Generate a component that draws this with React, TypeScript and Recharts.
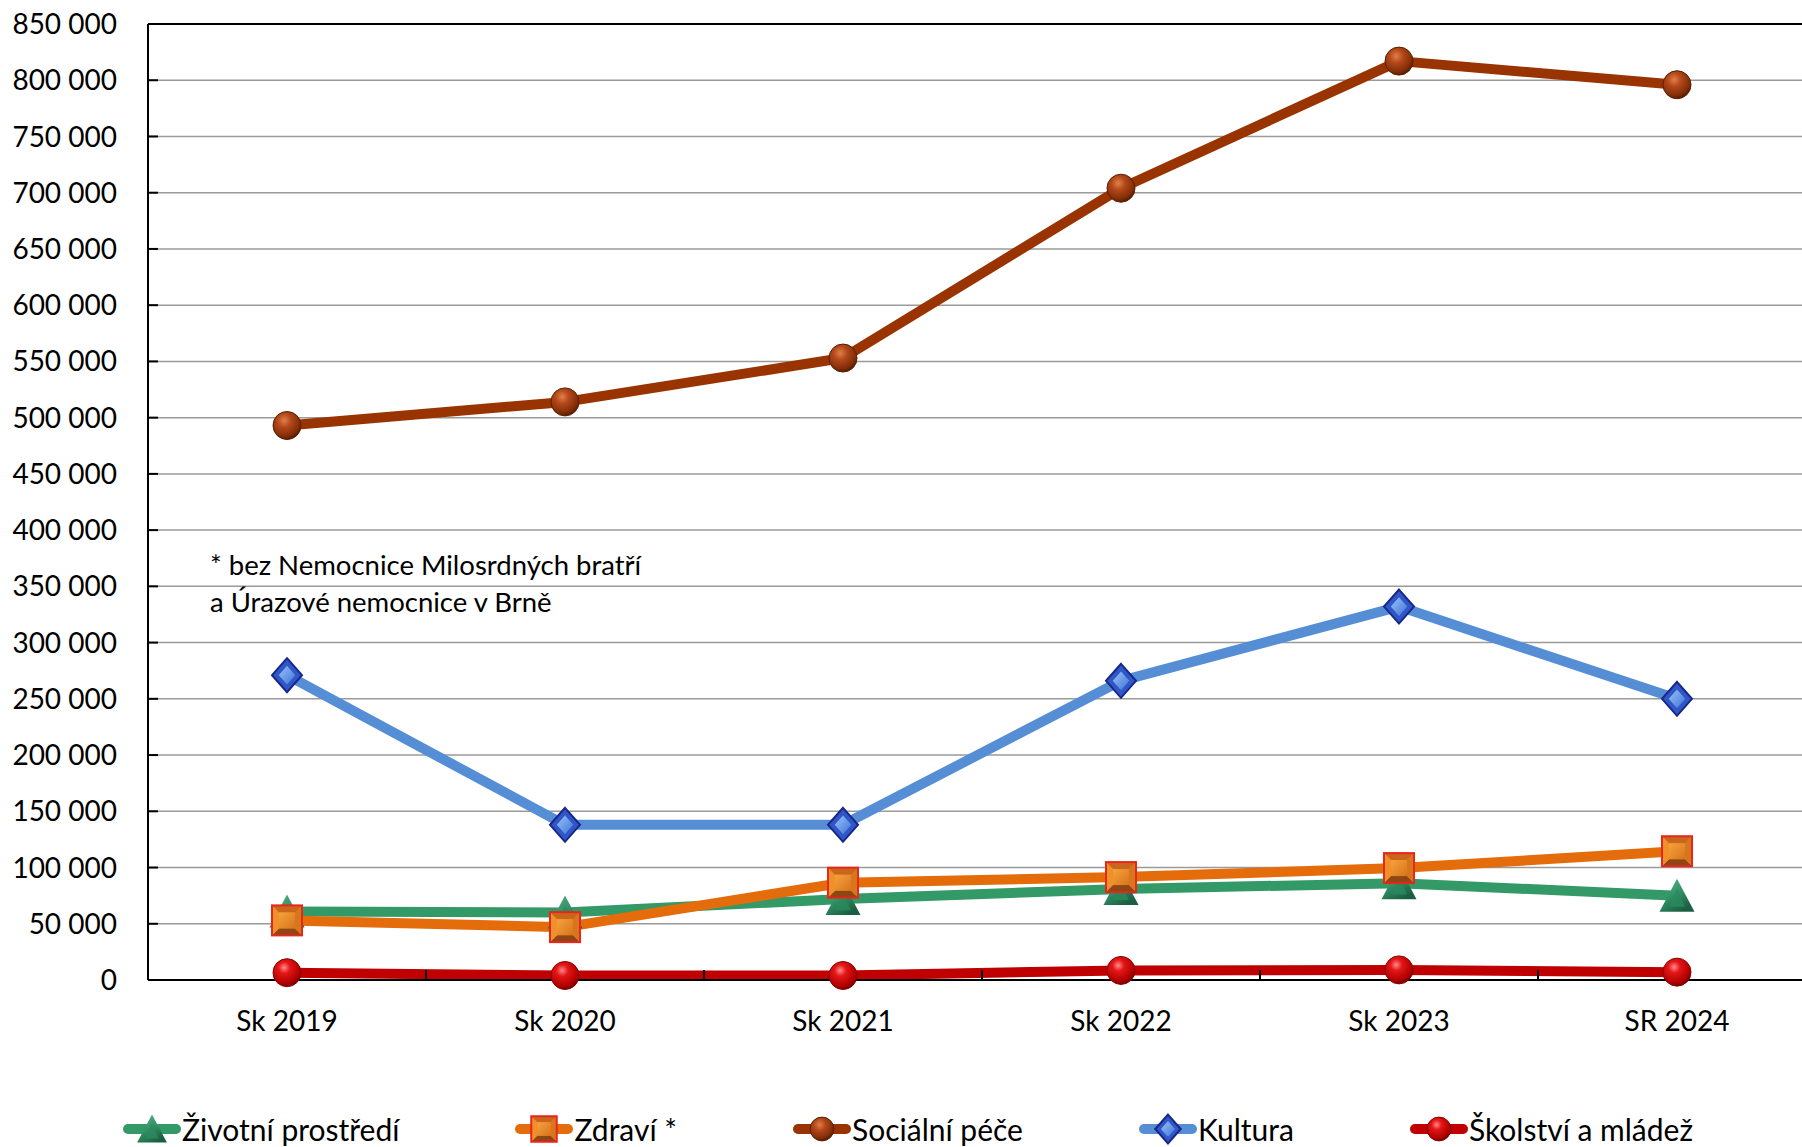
import React from "react";
import { LineChart, Line, XAxis, YAxis, CartesianGrid, ReferenceLine } from "recharts";

const categories = ["Sk 2019", "Sk 2020", "Sk 2021", "Sk 2022", "Sk 2023", "SR 2024"];
const zivotniProstredi = [61000, 60000, 72000, 81000, 86000, 75000];
const zdravi = [53000, 47000, 86500, 91500, 99500, 114500];
const socialniPece = [493000, 514000, 553000, 704000, 817000, 796000];
const kultura = [271000, 138000, 138000, 266000, 332000, 250000];
const skolstvi = [6500, 4000, 4000, 8500, 9000, 7000];
const yTicks = [
  0, 50000, 100000, 150000, 200000, 250000, 300000, 350000, 400000,
  450000, 500000, 550000, 600000, 650000, 700000, 750000, 800000, 850000,
];
const noteLines = ["* bez Nemocnice Milosrdných bratří", "a Úrazové nemocnice v Brně"];

const W = 1802;
const H = 1147;
const CHART_W = 1827;
const Y_AXIS_W = 148;
const MARGIN_R = 11;
const X_AXIS_H = 167;
const BAND = (CHART_W - Y_AXIS_W - MARGIN_R) / categories.length;
const FONT = "Lato, 'Open Sans', sans-serif";

const data = categories.map((cat, i) => ({
  cat,
  zivot: zivotniProstredi[i],
  zdravi: zdravi[i],
  social: socialniPece[i],
  kultura: kultura[i],
  skolstvi: skolstvi[i],
}));

type MarkerType = "triangle" | "square" | "sphereBrown" | "diamond" | "sphereRed";

const series: { key: string; name: string; color: string; marker: MarkerType }[] = [
  { key: "zivot", name: "Životní prostředí", color: "#339966", marker: "triangle" },
  { key: "zdravi", name: "Zdraví *", color: "#e46c0a", marker: "square" },
  { key: "social", name: "Sociální péče", color: "#993300", marker: "sphereBrown" },
  { key: "kultura", name: "Kultura", color: "#558ed5", marker: "diamond" },
  { key: "skolstvi", name: "Školství a mládež", color: "#c00000", marker: "sphereRed" },
];

const fmt = (v: number) => String(v).replace(/\B(?=(\d{3})+(?!\d))/g, " ");

// shaded markers roughly like the bevelled Excel ones
function Marker({ type, cx, cy, s = 1 }: { type: MarkerType; cx: number; cy: number; s?: number }) {
  if (cx == null || cy == null) return null;
  if (type === "sphereRed" || type === "sphereBrown") {
    const red = type === "sphereRed";
    return (
      <circle
        cx={cx}
        cy={cy}
        r={14 * s}
        fill={red ? "url(#gSphereRed)" : "url(#gSphereBrown)"}
        stroke={red ? "#8a0000" : "#5a1e00"}
        strokeWidth={1}
      />
    );
  }
  if (type === "square") {
    const h = 15 * s;
    const i = 8 * s;
    return (
      <g>
        <rect x={cx - h} y={cy - h} width={2 * h} height={2 * h} fill="#e07a1c" />
        <polygon points={`${cx - h},${cy - h} ${cx + h},${cy - h} ${cx + i},${cy - i} ${cx - i},${cy - i}`} fill="#c9661c" />
        <polygon points={`${cx - h},${cy + h} ${cx + h},${cy + h} ${cx + i},${cy + i} ${cx - i},${cy + i}`} fill="#8f4514" />
        <polygon points={`${cx - h},${cy - h} ${cx - h},${cy + h} ${cx - i},${cy + i} ${cx - i},${cy - i}`} fill="#f0902a" />
        <polygon points={`${cx + h},${cy - h} ${cx + h},${cy + h} ${cx + i},${cy + i} ${cx + i},${cy - i}`} fill="#d8761e" />
        <rect x={cx - i} y={cy - i} width={2 * i} height={2 * i} fill="url(#gSqIn)" />
        <rect x={cx - h} y={cy - h} width={2 * h} height={2 * h} fill="none" stroke="#e8261c" strokeWidth={2} />
      </g>
    );
  }
  if (type === "diamond") {
    const w = 15 * s;
    const h = 17 * s;
    const k = 0.55;
    return (
      <g>
        <polygon
          points={`${cx},${cy - h} ${cx + w},${cy} ${cx},${cy + h} ${cx - w},${cy}`}
          fill="#2f57c8"
          stroke="#18268a"
          strokeWidth={2}
        />
        <polygon
          points={`${cx},${cy - h * k} ${cx + w * k},${cy} ${cx},${cy + h * k} ${cx - w * k},${cy}`}
          fill="url(#gDiaIn)"
        />
      </g>
    );
  }
  const hw = 17.5 * s;
  const top = 17 * s;
  const bot = 16 * s;
  return (
    <g>
      <polygon points={`${cx},${cy - top} ${cx - hw},${cy + bot} ${cx + hw},${cy + bot}`} fill="url(#gTri)" />
      <polygon
        points={`${cx},${cy - top * 0.4} ${cx - hw * 0.45},${cy + bot * 0.7} ${cx + hw * 0.45},${cy + bot * 0.7}`}
        fill="#2a8a5e"
        opacity={0.8}
      />
    </g>
  );
}

const XTick = (props: any) => {
  const { x, y, payload, index } = props;
  return (
    <g>
      {index < categories.length - 1 && (
        <line x1={x + BAND / 2} x2={x + BAND / 2} y1={y} y2={y - 10} stroke="#000" strokeWidth={2} />
      )}
      <text x={x} y={y + 51} textAnchor="middle" fontSize={28} fill="#000" fontFamily={FONT}>
        {payload.value}
      </text>
    </g>
  );
};

const YTick = (props: any) => {
  const { x, y, payload } = props;
  return (
    <g>
      <line x1={x} x2={x + 10} y1={y} y2={y} stroke="#000" strokeWidth={2} />
      <text x={x - 31} y={y} dy="0.36em" textAnchor="end" fontSize={28} fill="#000" fontFamily={FONT}>
        {fmt(payload.value)}
      </text>
    </g>
  );
};

export default function App() {
  return (
    <div
      style={{
        position: "fixed",
        left: 0,
        top: 0,
        width: W,
        height: H,
        overflow: "hidden",
        background: "#fff",
        fontFamily: FONT,
      }}
    >
      <svg width={0} height={0} style={{ position: "absolute" }}>
        <defs>
          <radialGradient id="gSphereRed" cx="40%" cy="32%" r="70%">
            <stop offset="0%" stopColor="#ff8a8a" />
            <stop offset="30%" stopColor="#e41616" />
            <stop offset="80%" stopColor="#b00000" />
            <stop offset="100%" stopColor="#700000" />
          </radialGradient>
          <radialGradient id="gSphereBrown" cx="40%" cy="32%" r="70%">
            <stop offset="0%" stopColor="#e0804a" />
            <stop offset="35%" stopColor="#b4481a" />
            <stop offset="80%" stopColor="#822e08" />
            <stop offset="100%" stopColor="#541a00" />
          </radialGradient>
          <linearGradient id="gTri" x1="0" y1="0" x2="0.6" y2="1">
            <stop offset="0%" stopColor="#5cb88a" />
            <stop offset="60%" stopColor="#2f8c62" />
            <stop offset="100%" stopColor="#1b5e40" />
          </linearGradient>
          <linearGradient id="gSqIn" x1="0" y1="0" x2="1" y2="1">
            <stop offset="0%" stopColor="#f6a23c" />
            <stop offset="100%" stopColor="#d8741c" />
          </linearGradient>
          <linearGradient id="gDiaIn" x1="0" y1="0" x2="1" y2="1">
            <stop offset="0%" stopColor="#9cc4f6" />
            <stop offset="100%" stopColor="#3d72d8" />
          </linearGradient>
        </defs>
      </svg>

      <LineChart
        width={CHART_W}
        height={H}
        data={data}
        margin={{ top: 24, right: MARGIN_R, left: 0, bottom: 0 }}
      >
        <CartesianGrid vertical={false} stroke="#9a9a9a" strokeWidth={1.5} />
        <XAxis
          dataKey="cat"
          padding={{ left: BAND / 2, right: BAND / 2 }}
          height={X_AXIS_H}
          axisLine={{ stroke: "#000", strokeWidth: 2 }}
          tickLine={false}
          tickSize={0}
          tickMargin={0}
          interval={0}
          tick={(p: any) => <XTick {...p} />}
        />
        <YAxis
          width={Y_AXIS_W}
          domain={[0, yTicks[yTicks.length - 1]]}
          ticks={yTicks}
          interval={0}
          axisLine={{ stroke: "#000", strokeWidth: 2 }}
          tickLine={false}
          tickSize={0}
          tickMargin={0}
          tick={(p: any) => <YTick {...p} />}
        />
        <ReferenceLine y={yTicks[yTicks.length - 1]} stroke="#000" strokeWidth={2} />
        {series.map((s) => (
          <Line
            key={s.key}
            type="linear"
            dataKey={s.key}
            name={s.name}
            stroke={s.color}
            strokeWidth={10}
            strokeLinejoin="round"
            isAnimationActive={false}
            activeDot={false}
            dot={(p: any) => <Marker key={`${s.key}-${p.index}`} type={s.marker} cx={p.cx} cy={p.cy} />}
          />
        ))}
      </LineChart>

      <svg
        width={W}
        height={H}
        style={{ position: "absolute", left: 0, top: 0, pointerEvents: "none" }}
      >
        {noteLines.map((t, i) => (
          <text key={i} x={210} y={575 + i * 37} fontSize={27.5} fill="#000" fontFamily={FONT}>
            {t}
          </text>
        ))}
      </svg>

      <div
        style={{
          position: "absolute",
          left: 123,
          top: 1112,
          display: "flex",
          alignItems: "center",
          gap: 116,
          whiteSpace: "nowrap",
        }}
      >
        {series.map((s) => (
          <div key={s.key} style={{ display: "flex", alignItems: "center", height: 34 }}>
            <svg width={58} height={34}>
              <line x1={5} x2={53} y1={17} y2={17} stroke={s.color} strokeWidth={10} strokeLinecap="round" />
              <Marker type={s.marker} cx={29} cy={17} s={0.85} />
            </svg>
            <span style={{ fontSize: 30, lineHeight: "34px", color: "#000", marginLeft: 1 }}>{s.name}</span>
          </div>
        ))}
      </div>
    </div>
  );
}
